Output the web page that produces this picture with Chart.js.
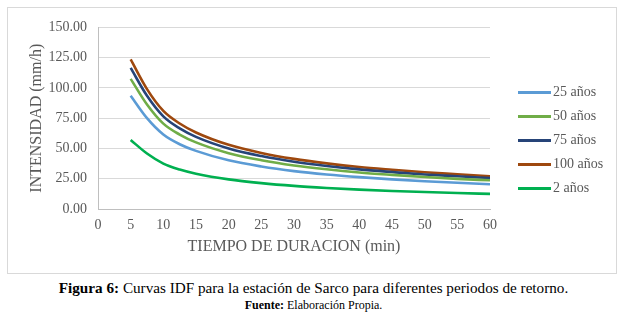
<!DOCTYPE html>
<html>
<head>
<meta charset="utf-8">
<script src="https://cdn.jsdelivr.net/npm/chart.js@4"></script>
<style>
  body { margin: 0; background: #fff; width: 627px; height: 321px; position: relative; font-family: "Liberation Serif", "Times New Roman", serif; }
  #box { position: absolute; left: 7px; top: 7px; width: 608px; height: 265px; border: 1px solid #d9d9d9; }
  #myChart { display: block; }
  #legend { position: absolute; left: 518px; top: 0; }
  .item { position: absolute; left: 0; white-space: nowrap; color: #595959; font-size: 14px; }
  .item span.line { position: absolute; left: 0; width: 33px; height: 3px; }
  .item span.txt { position: absolute; left: 35px; top: -9px; }
  #caption { position: absolute; left: 0; width: 627px; top: 279px; text-align: center; font-size: 15.2px; color: #000; }
  #source { position: absolute; left: 0; width: 627px; top: 298px; text-align: center; font-size: 12px; color: #000; }
</style>
</head>
<body>
<div id="box"><canvas id="myChart" width="608" height="265"></canvas></div>
<div id="legend"></div>
<div id="caption"><b>Figura 6:</b> Curvas IDF para la estación de Sarco para diferentes periodos de retorno.</div>
<div id="source"><b>Fuente:</b> Elaboración Propia.</div>
<script>
const durations = [5, 7.5, 10, 12.5, 15, 20, 25, 30, 35, 40, 45, 50, 55, 60];
const seriesNames = ["25 años", "50 años", "75 años", "100 años", "2 años"];
const serie25 = [93.5, 75.0, 61.5, 53.5, 48.0, 40.2, 35.1, 31.3, 28.5, 26.3, 24.5, 22.9, 21.7, 20.5];
const serie50 = [107.5, 86.3, 70.5, 61.5, 55.0, 46.1, 40.3, 36.0, 32.8, 30.2, 28.2, 26.4, 24.9, 23.7];
const serie75 = [116.5, 93.5, 76.5, 66.6, 59.6, 50.0, 43.7, 39.0, 35.5, 32.7, 30.5, 28.5, 27.0, 25.6];
const serie100 = [123.5, 99.0, 81.0, 70.6, 63.2, 53.0, 46.3, 41.4, 37.7, 34.7, 32.4, 30.3, 28.7, 27.1];
const serie2 = [57.0, 45.8, 37.5, 32.6, 29.2, 24.5, 21.4, 19.1, 17.4, 16.0, 14.9, 14.0, 13.2, 12.5];
const yTicks = [0, 25, 50, 75, 100, 125, 150];
const xTicks = [0, 5, 10, 15, 20, 25, 30, 35, 40, 45, 50, 55, 60];

const colors = ["#5B9BD5", "#70AD47", "#264478", "#9E480E", "#00B050"];
const allData = [serie25, serie50, serie75, serie100, serie2];

function makePoints(values) {
    var result = [];
    for (var i = 0; i < values.length; i++) result[i] = { x: durations[i], y: values[i] };
    return result;
}

var datasets = [];
for (var i = 0; i < seriesNames.length; i++) {
    datasets.push({
        label: seriesNames[i],
        data: makePoints(allData[i]),
        borderColor: colors[i],
        backgroundColor: colors[i],
        borderWidth: 2.6,
        pointRadius: 0,
        cubicInterpolationMode: "monotone",
        fill: false
    });
}

// legend on the right, as html
const legendEl = document.getElementById("legend");
const legendRows = [92.5, 116.5, 140.5, 164.5, 188.5];
for (var i = 0; i < seriesNames.length; i++) {
    var item = document.createElement("div");
    item.className = "item";
    item.style.top = legendRows[i] + "px";
    item.innerHTML = '<span class="line" style="top:-1.5px;background:' + colors[i] + '"></span><span class="txt">' + seriesNames[i] + '</span>';
    legendEl.appendChild(item);
}

const ctx = document.getElementById("myChart").getContext("2d");
const myChart = new Chart(ctx, {
    type: "line",
    data: { datasets: datasets },
    options: {
        responsive: false,
        animation: false,
        devicePixelRatio: 1,
        layout: { padding: { left: 0, top: 16, right: 126, bottom: 0 } },
        plugins: { legend: { display: false }, tooltip: { enabled: false } },
        scales: {
            x: {
                type: "linear",
                min: 0,
                max: 60,
                afterBuildTicks: function(scale) { scale.ticks = xTicks.map(function(v) { return { value: v }; }); },
                afterFit: function(scale) { scale.height = 64; },
                grid: { display: false, drawTicks: false },
                border: { display: true, color: "#bfbfbf", width: 1 },
                ticks: { color: "#595959", font: { family: "Liberation Serif", size: 14 }, padding: 8, maxRotation: 0, autoSkip: false },
                title: { display: true, text: "TIEMPO DE DURACION (min)", color: "#595959", font: { family: "Liberation Serif", size: 16 }, padding: { top: 0, bottom: 17 } }
            },
            y: {
                min: 0,
                max: 150,
                afterBuildTicks: function(scale) { scale.ticks = yTicks.map(function(v) { return { value: v }; }); },
                afterFit: function(scale) { scale.width = 90; },
                grid: { color: "#d9d9d9", lineWidth: 1, drawTicks: false },
                border: { display: true, color: "#bfbfbf", width: 1 },
                ticks: { color: "#595959", font: { family: "Liberation Serif", size: 14 }, padding: 11, callback: function(v) { return v.toFixed(2); } },
                title: { display: true, text: "INTENSIDAD (mm/h)", color: "#595959", font: { family: "Liberation Serif", size: 16 }, padding: { top: 19, bottom: 0 } }
            }
        }
    }
});
</script>
</body>
</html>
